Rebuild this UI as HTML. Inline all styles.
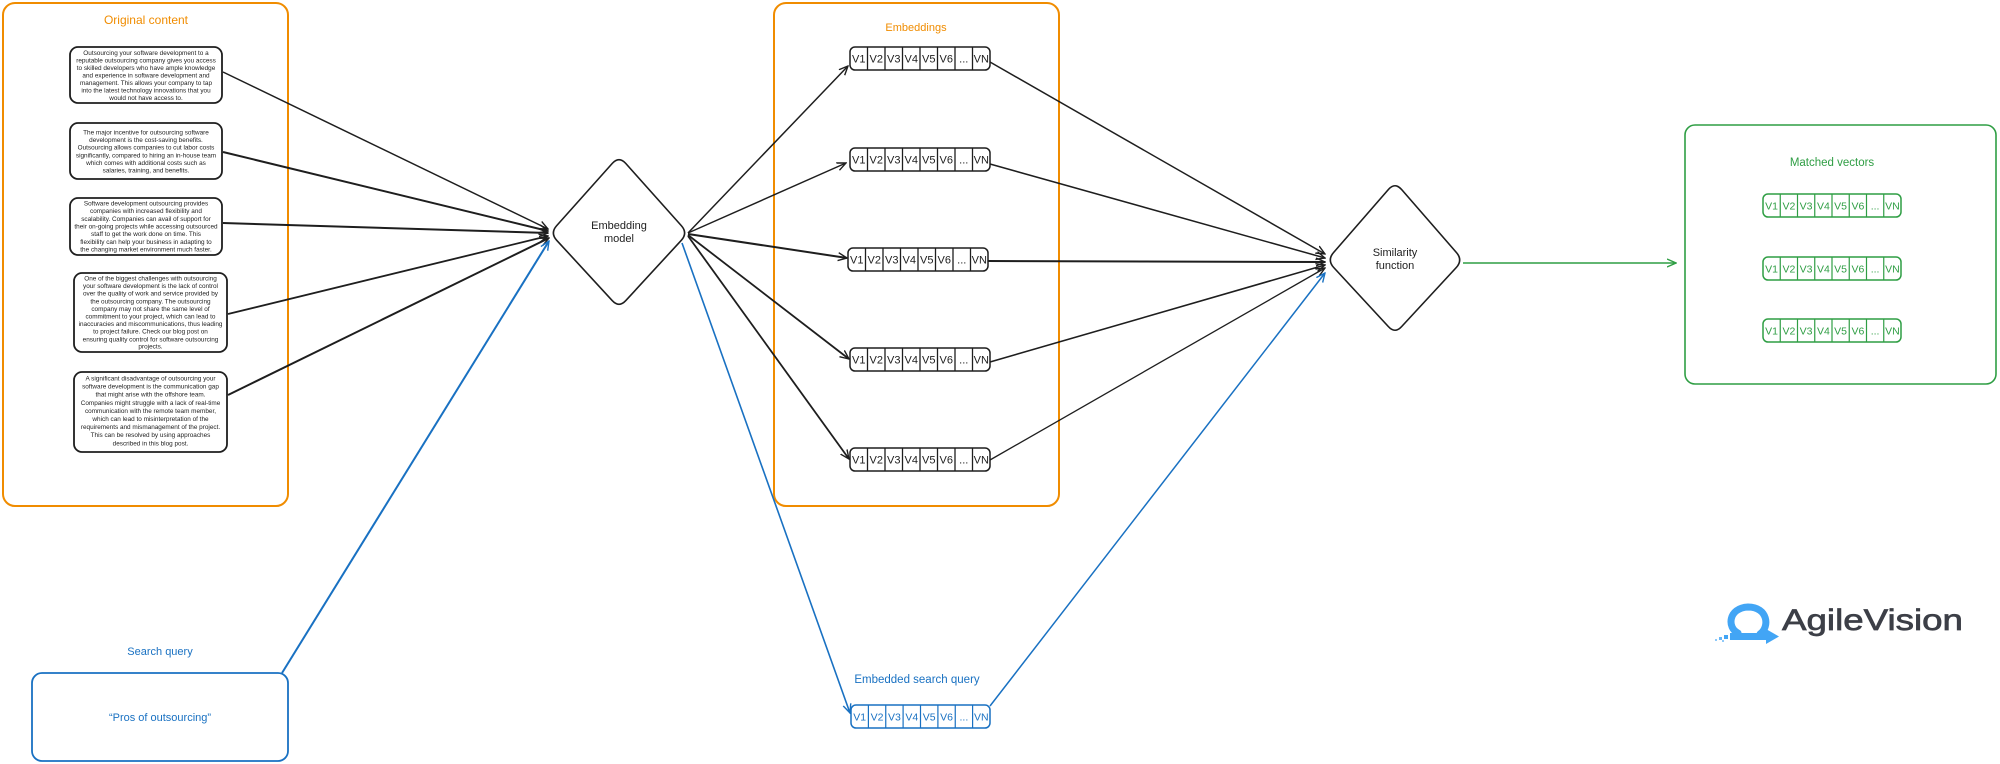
<!DOCTYPE html>
<html>
<head>
<meta charset="utf-8">
<style>
  html,body{margin:0;padding:0;background:#ffffff;}
  body{width:2000px;height:764px;overflow:hidden;}
  svg{display:block;}
  text{font-family:"Liberation Sans",sans-serif;}
  .bt{font-size:6.4px;fill:#1e1e1e;text-anchor:middle;}
  .vc{font-size:11px;fill:#1e1e1e;text-anchor:middle;}
  .vg{font-size:10.5px;fill:#2f9e44;text-anchor:middle;}
  .vb{font-size:10.5px;fill:#1971c2;text-anchor:middle;}
</style>
</head>
<body>
<svg width="2000" height="764" viewBox="0 0 2000 764" xmlns="http://www.w3.org/2000/svg">
  <defs>
    <marker id="ak" viewBox="0 0 10 10" refX="9" refY="5" markerWidth="10" markerHeight="10" markerUnits="userSpaceOnUse" orient="auto">
      <path d="M0,1 L9,5 L0,9" fill="none" stroke="#1e1e1e" stroke-width="1.4"/>
    </marker>
    <marker id="ab" viewBox="0 0 10 10" refX="9" refY="5" markerWidth="10" markerHeight="10" markerUnits="userSpaceOnUse" orient="auto">
      <path d="M0,1 L9,5 L0,9" fill="none" stroke="#1971c2" stroke-width="1.4"/>
    </marker>
    <marker id="ag" viewBox="0 0 10 10" refX="9" refY="5" markerWidth="10" markerHeight="10" markerUnits="userSpaceOnUse" orient="auto">
      <path d="M0,1 L9,5 L0,9" fill="none" stroke="#2f9e44" stroke-width="1.4"/>
    </marker>
  </defs>

  <!-- Frames -->
  <rect x="3" y="3" width="285" height="503" rx="12" fill="none" stroke="#f08c00" stroke-width="2"/>
  <text x="146" y="24" font-size="12" fill="#f08c00" text-anchor="middle">Original content</text>

  <rect x="774" y="3" width="285" height="503" rx="12" fill="none" stroke="#f08c00" stroke-width="2"/>
  <text x="916" y="31" font-size="11" fill="#f08c00" text-anchor="middle">Embeddings</text>

  <rect x="1685" y="125" width="311" height="259" rx="10" fill="none" stroke="#2f9e44" stroke-width="1.6"/>
  <text x="1832" y="166" font-size="11.5" fill="#2f9e44" text-anchor="middle">Matched vectors</text>

  <!-- Text boxes -->
  <rect x="70" y="47" width="152" height="56" rx="8" fill="#fff" stroke="#1e1e1e" stroke-width="1.8"/>
  <text class="bt" x="146" y="55">Outsourcing your software development to a</text>
  <text class="bt" x="146" y="62.5">reputable outsourcing company gives you access</text>
  <text class="bt" x="146" y="70">to skilled developers who have ample knowledge</text>
  <text class="bt" x="146" y="77.5">and experience in software development and</text>
  <text class="bt" x="146" y="85">management. This allows your company to tap</text>
  <text class="bt" x="146" y="92.5">into the latest technology innovations that you</text>
  <text class="bt" x="146" y="100">would not have access to.</text>

  <rect x="70" y="123" width="152" height="56" rx="8" fill="#fff" stroke="#1e1e1e" stroke-width="1.8"/>
  <text class="bt" x="146" y="134.5">The major incentive for outsourcing software</text>
  <text class="bt" x="146" y="142.1">development is the cost-saving benefits.</text>
  <text class="bt" x="146" y="149.7">Outsourcing allows companies to cut labor costs</text>
  <text class="bt" x="146" y="157.3">significantly, compared to hiring an in-house team</text>
  <text class="bt" x="146" y="164.9">which comes with additional costs such as</text>
  <text class="bt" x="146" y="172.5">salaries, training, and benefits.</text>

  <rect x="70" y="198" width="152" height="57" rx="8" fill="#fff" stroke="#1e1e1e" stroke-width="1.8"/>
  <text class="bt" x="146" y="205.5">Software development outsourcing provides</text>
  <text class="bt" x="146" y="213.2">companies with increased flexibility and</text>
  <text class="bt" x="146" y="220.8">scalability. Companies can avail of support for</text>
  <text class="bt" x="146" y="228.5">their on-going projects while accessing outsourced</text>
  <text class="bt" x="146" y="236.2">staff to get the work done on time. This</text>
  <text class="bt" x="146" y="243.8">flexibility can help your business in adapting to</text>
  <text class="bt" x="146" y="251.5">the changing market environment much faster.</text>

  <rect x="74" y="273" width="153" height="79" rx="8" fill="#fff" stroke="#1e1e1e" stroke-width="1.8"/>
  <text class="bt" x="150.5" y="280.5">One of the biggest challenges with outsourcing</text>
  <text class="bt" x="150.5" y="288.1">your software development is the lack of control</text>
  <text class="bt" x="150.5" y="295.7">over the quality of work and service provided by</text>
  <text class="bt" x="150.5" y="303.3">the outsourcing company. The outsourcing</text>
  <text class="bt" x="150.5" y="310.9">company may not share the same level of</text>
  <text class="bt" x="150.5" y="318.5">commitment to your project, which can lead to</text>
  <text class="bt" x="150.5" y="326.1">inaccuracies and miscommunications, thus leading</text>
  <text class="bt" x="150.5" y="333.7">to project failure. Check our blog post on</text>
  <text class="bt" x="150.5" y="341.3">ensuring quality control for software outsourcing</text>
  <text class="bt" x="150.5" y="348.6">projects.</text>

  <rect x="74" y="372" width="153" height="80" rx="8" fill="#fff" stroke="#1e1e1e" stroke-width="1.8"/>
  <text class="bt" x="150.5" y="380.5">A significant disadvantage of outsourcing your</text>
  <text class="bt" x="150.5" y="388.6">software development is the communication gap</text>
  <text class="bt" x="150.5" y="396.7">that might arise with the offshore team.</text>
  <text class="bt" x="150.5" y="404.8">Companies might struggle with a lack of real-time</text>
  <text class="bt" x="150.5" y="412.9">communication with the remote team member,</text>
  <text class="bt" x="150.5" y="421">which can lead to misinterpretation of the</text>
  <text class="bt" x="150.5" y="429.1">requirements and mismanagement of the project.</text>
  <text class="bt" x="150.5" y="437.2">This can be resolved by using approaches</text>
  <text class="bt" x="150.5" y="445.3">described in this blog post.</text>

  <!-- Connectors: boxes -> embedding model -->
  <g stroke="#1e1e1e" fill="none" marker-end="url(#ak)">
    <line x1="223" y1="72" x2="548" y2="229" stroke-width="1.5"/>
    <line x1="223" y1="152" x2="548" y2="231" stroke-width="2"/>
    <line x1="223" y1="223" x2="548" y2="233" stroke-width="2"/>
    <line x1="228" y1="314" x2="548" y2="236" stroke-width="1.8"/>
    <line x1="228" y1="395" x2="549" y2="238" stroke-width="2"/>
  </g>
  <line x1="282" y1="673" x2="549" y2="241" stroke="#1971c2" stroke-width="2" marker-end="url(#ab)"/>

  <!-- Embedding model diamond -->
  <path d="M612.3,163.4 Q619,156 625.7,163.4 L681.3,225.6 Q688,233 681.2,240.4 L625.8,300.6 Q619,308 612.2,300.6 L556.8,240.4 Q550,233 556.7,225.6 Z" fill="#fff" stroke="#1e1e1e" stroke-width="1.6"/>
  <text x="619" y="229" font-size="11" fill="#1e1e1e" text-anchor="middle">Embedding</text>
  <text x="619" y="242" font-size="11" fill="#1e1e1e" text-anchor="middle">model</text>

  <!-- Connectors: embedding model -> rows -->
  <g stroke="#1e1e1e" fill="none" marker-end="url(#ak)">
    <line x1="688" y1="233" x2="848" y2="66" stroke-width="1.5"/>
    <line x1="688" y1="233" x2="846" y2="163" stroke-width="1.5"/>
    <line x1="688" y1="234" x2="847" y2="258" stroke-width="2"/>
    <line x1="688" y1="235" x2="849" y2="359" stroke-width="1.8"/>
    <line x1="688" y1="236" x2="849" y2="459" stroke-width="1.8"/>
  </g>
  <line x1="682" y1="243" x2="850" y2="713" stroke="#1971c2" stroke-width="1.6" marker-end="url(#ab)"/>

  <!-- Connectors: rows -> similarity -->
  <g stroke="#1e1e1e" fill="none" marker-end="url(#ak)">
    <line x1="990" y1="62" x2="1325" y2="254" stroke-width="1.5"/>
    <line x1="990" y1="164" x2="1325" y2="258" stroke-width="1.5"/>
    <line x1="988" y1="261" x2="1325" y2="262" stroke-width="2"/>
    <line x1="990" y1="362" x2="1325" y2="265" stroke-width="1.6"/>
    <line x1="990" y1="460" x2="1325" y2="268" stroke-width="1.3"/>
  </g>
  <line x1="990" y1="706" x2="1325" y2="273" stroke="#1971c2" stroke-width="1.5" marker-end="url(#ab)"/>

  <!-- Black vector rows -->
  <g transform="translate(850,47)">
    <rect x="0" y="0" width="140" height="23" rx="5" fill="#fff" stroke="#1e1e1e" stroke-width="1.5"/>
    <path d="M17.5,0V23M35,0V23M52.5,0V23M70,0V23M87.5,0V23M105,0V23M122.5,0V23" stroke="#1e1e1e" stroke-width="1.3"/>
    <text class="vc" x="8.75" y="15.5">V1</text><text class="vc" x="26.25" y="15.5">V2</text><text class="vc" x="43.75" y="15.5">V3</text><text class="vc" x="61.25" y="15.5">V4</text><text class="vc" x="78.75" y="15.5">V5</text><text class="vc" x="96.25" y="15.5">V6</text><text class="vc" x="113.75" y="15.5">...</text><text class="vc" x="131.25" y="15.5">VN</text>
  </g>
  <g transform="translate(850,148)">
    <rect x="0" y="0" width="140" height="23" rx="5" fill="#fff" stroke="#1e1e1e" stroke-width="1.5"/>
    <path d="M17.5,0V23M35,0V23M52.5,0V23M70,0V23M87.5,0V23M105,0V23M122.5,0V23" stroke="#1e1e1e" stroke-width="1.3"/>
    <text class="vc" x="8.75" y="15.5">V1</text><text class="vc" x="26.25" y="15.5">V2</text><text class="vc" x="43.75" y="15.5">V3</text><text class="vc" x="61.25" y="15.5">V4</text><text class="vc" x="78.75" y="15.5">V5</text><text class="vc" x="96.25" y="15.5">V6</text><text class="vc" x="113.75" y="15.5">...</text><text class="vc" x="131.25" y="15.5">VN</text>
  </g>
  <g transform="translate(848,248)">
    <rect x="0" y="0" width="140" height="23" rx="5" fill="#fff" stroke="#1e1e1e" stroke-width="1.5"/>
    <path d="M17.5,0V23M35,0V23M52.5,0V23M70,0V23M87.5,0V23M105,0V23M122.5,0V23" stroke="#1e1e1e" stroke-width="1.3"/>
    <text class="vc" x="8.75" y="15.5">V1</text><text class="vc" x="26.25" y="15.5">V2</text><text class="vc" x="43.75" y="15.5">V3</text><text class="vc" x="61.25" y="15.5">V4</text><text class="vc" x="78.75" y="15.5">V5</text><text class="vc" x="96.25" y="15.5">V6</text><text class="vc" x="113.75" y="15.5">...</text><text class="vc" x="131.25" y="15.5">VN</text>
  </g>
  <g transform="translate(850,348)">
    <rect x="0" y="0" width="140" height="23" rx="5" fill="#fff" stroke="#1e1e1e" stroke-width="1.5"/>
    <path d="M17.5,0V23M35,0V23M52.5,0V23M70,0V23M87.5,0V23M105,0V23M122.5,0V23" stroke="#1e1e1e" stroke-width="1.3"/>
    <text class="vc" x="8.75" y="15.5">V1</text><text class="vc" x="26.25" y="15.5">V2</text><text class="vc" x="43.75" y="15.5">V3</text><text class="vc" x="61.25" y="15.5">V4</text><text class="vc" x="78.75" y="15.5">V5</text><text class="vc" x="96.25" y="15.5">V6</text><text class="vc" x="113.75" y="15.5">...</text><text class="vc" x="131.25" y="15.5">VN</text>
  </g>
  <g transform="translate(850,448)">
    <rect x="0" y="0" width="140" height="23" rx="5" fill="#fff" stroke="#1e1e1e" stroke-width="1.5"/>
    <path d="M17.5,0V23M35,0V23M52.5,0V23M70,0V23M87.5,0V23M105,0V23M122.5,0V23" stroke="#1e1e1e" stroke-width="1.3"/>
    <text class="vc" x="8.75" y="15.5">V1</text><text class="vc" x="26.25" y="15.5">V2</text><text class="vc" x="43.75" y="15.5">V3</text><text class="vc" x="61.25" y="15.5">V4</text><text class="vc" x="78.75" y="15.5">V5</text><text class="vc" x="96.25" y="15.5">V6</text><text class="vc" x="113.75" y="15.5">...</text><text class="vc" x="131.25" y="15.5">VN</text>
  </g>

  <!-- Similarity function diamond -->
  <path d="M1388.4,189.5 Q1395,182 1401.6,189.5 L1456.4,252.5 Q1463,260 1456.3,267.5 L1401.7,326.5 Q1395,334 1388.3,326.5 L1333.7,267.5 Q1327,260 1333.6,252.5 Z" fill="#fff" stroke="#1e1e1e" stroke-width="1.6"/>
  <text x="1395" y="256" font-size="11" fill="#1e1e1e" text-anchor="middle">Similarity</text>
  <text x="1395" y="269" font-size="11" fill="#1e1e1e" text-anchor="middle">function</text>

  <!-- Green arrow -->
  <line x1="1463" y1="263" x2="1676" y2="263" stroke="#2f9e44" stroke-width="1.6" marker-end="url(#ag)"/>

  <!-- Green rows -->
  <g transform="translate(1763,194)">
    <rect x="0" y="0" width="138" height="23" rx="5" fill="#fff" stroke="#2f9e44" stroke-width="1.5"/>
    <path d="M17.25,0V23M34.5,0V23M51.75,0V23M69,0V23M86.25,0V23M103.5,0V23M120.75,0V23" stroke="#2f9e44" stroke-width="1.2"/>
    <text class="vg" x="8.6" y="15.5">V1</text><text class="vg" x="25.9" y="15.5">V2</text><text class="vg" x="43.1" y="15.5">V3</text><text class="vg" x="60.4" y="15.5">V4</text><text class="vg" x="77.6" y="15.5">V5</text><text class="vg" x="94.9" y="15.5">V6</text><text class="vg" x="112.1" y="15.5">...</text><text class="vg" x="129.4" y="15.5">VN</text>
  </g>
  <g transform="translate(1763,257)">
    <rect x="0" y="0" width="138" height="23" rx="5" fill="#fff" stroke="#2f9e44" stroke-width="1.5"/>
    <path d="M17.25,0V23M34.5,0V23M51.75,0V23M69,0V23M86.25,0V23M103.5,0V23M120.75,0V23" stroke="#2f9e44" stroke-width="1.2"/>
    <text class="vg" x="8.6" y="15.5">V1</text><text class="vg" x="25.9" y="15.5">V2</text><text class="vg" x="43.1" y="15.5">V3</text><text class="vg" x="60.4" y="15.5">V4</text><text class="vg" x="77.6" y="15.5">V5</text><text class="vg" x="94.9" y="15.5">V6</text><text class="vg" x="112.1" y="15.5">...</text><text class="vg" x="129.4" y="15.5">VN</text>
  </g>
  <g transform="translate(1763,319)">
    <rect x="0" y="0" width="138" height="23" rx="5" fill="#fff" stroke="#2f9e44" stroke-width="1.5"/>
    <path d="M17.25,0V23M34.5,0V23M51.75,0V23M69,0V23M86.25,0V23M103.5,0V23M120.75,0V23" stroke="#2f9e44" stroke-width="1.2"/>
    <text class="vg" x="8.6" y="15.5">V1</text><text class="vg" x="25.9" y="15.5">V2</text><text class="vg" x="43.1" y="15.5">V3</text><text class="vg" x="60.4" y="15.5">V4</text><text class="vg" x="77.6" y="15.5">V5</text><text class="vg" x="94.9" y="15.5">V6</text><text class="vg" x="112.1" y="15.5">...</text><text class="vg" x="129.4" y="15.5">VN</text>
  </g>

  <!-- Search query -->
  <text x="160" y="655" font-size="11" fill="#1971c2" text-anchor="middle">Search query</text>
  <rect x="32" y="673" width="256" height="88" rx="10" fill="none" stroke="#1971c2" stroke-width="1.8"/>
  <text x="160" y="721" font-size="11" fill="#1971c2" text-anchor="middle">“Pros of outsourcing”</text>

  <!-- Embedded search query -->
  <text x="917" y="683" font-size="11.5" fill="#1971c2" text-anchor="middle">Embedded search query</text>
  <g transform="translate(851,705)">
    <rect x="0" y="0" width="139" height="23" rx="5" fill="#fff" stroke="#1971c2" stroke-width="1.5"/>
    <path d="M17.4,0V23M34.75,0V23M52.1,0V23M69.5,0V23M86.9,0V23M104.25,0V23M121.6,0V23" stroke="#1971c2" stroke-width="1.2"/>
    <text class="vb" x="8.7" y="15.5">V1</text><text class="vb" x="26.1" y="15.5">V2</text><text class="vb" x="43.4" y="15.5">V3</text><text class="vb" x="60.8" y="15.5">V4</text><text class="vb" x="78.2" y="15.5">V5</text><text class="vb" x="95.6" y="15.5">V6</text><text class="vb" x="112.9" y="15.5">...</text><text class="vb" x="130.3" y="15.5">VN</text>
  </g>

  <!-- AgileVision logo -->
  <g>
    <path d="M1738,633 C1727,628 1728,608 1748,607 C1768,607 1770,627 1760,634" fill="none" stroke="#42a5f5" stroke-width="7" stroke-linecap="round"/>
    <rect x="1730" y="633" width="38" height="7" fill="#42a5f5"/>
    <polygon points="1766,629 1779,636.5 1766,644" fill="#42a5f5"/>
    <rect x="1724" y="635" width="4" height="4" fill="#42a5f5"/>
    <rect x="1719" y="637" width="3" height="3" fill="#42a5f5" opacity="0.8"/>
    <rect x="1715" y="639" width="2" height="2" fill="#42a5f5" opacity="0.6"/>
    <rect x="1722" y="640" width="2" height="2" fill="#42a5f5" opacity="0.6"/>
    <text x="1782" y="630" font-size="30" fill="#3c3f47" stroke="#3c3f47" stroke-width="0.7" textLength="181" lengthAdjust="spacingAndGlyphs">AgileVision</text>
  </g>
</svg>
</body>
</html>
